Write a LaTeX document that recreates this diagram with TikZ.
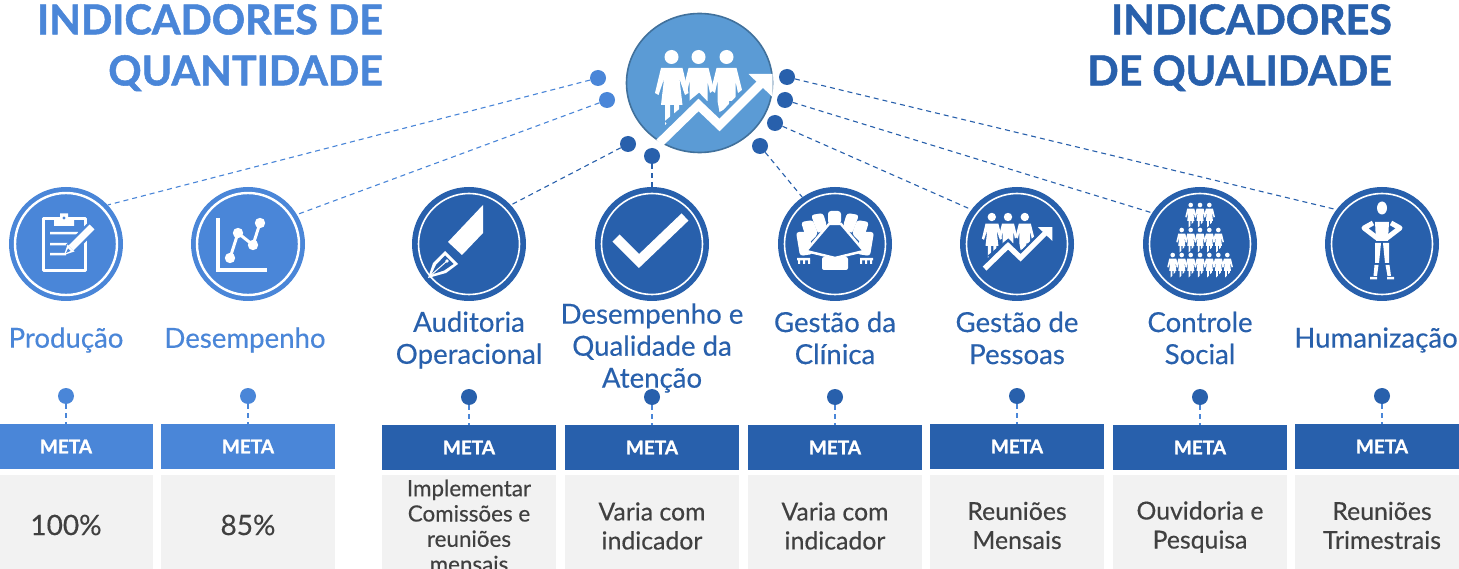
\documentclass[tikz,border=0pt]{standalone}
\usepackage{fontspec}
\usetikzlibrary{shapes.geometric}
\setmainfont{Lato}[BoldFeatures={FakeBold=1.3}]
\newfontfamily\medfont{Lato}[FakeBold=0.35]
\definecolor{lite}{HTML}{4A86D8}
\definecolor{dark}{HTML}{2860AC}
\definecolor{hub}{HTML}{5B9BD5}
\definecolor{hubline}{HTML}{41719C}
\definecolor{pale}{HTML}{F2F2F2}
\definecolor{ink}{HTML}{404040}
\tikzset{
  x=1pt,y=-1pt,
  icon/.style={circle,fill=#1,minimum size=114pt,inner sep=0pt},
  ringline/.style={draw=white,line width=#1},
  dot/.style={circle,fill=#1,minimum size=16pt,inner sep=0pt},
  link/.style={draw=#1,line width=1.1pt,dash pattern=on 5pt off 4pt},
  metabox/.style={fill=#1,minimum width=174pt,minimum height=45pt,inner sep=0pt,text=white,font=\fontsize{19}{24}\selectfont\bfseries},
  palebox/.style={fill=pale,minimum width=174pt,minimum height=110pt,inner sep=0pt},
  title/.style={text=#1,font=\fontsize{41.2}{51}\selectfont\bfseries,align=right,inner sep=0pt},
  lab/.style={text=#1,font=\medfont\fontsize{27.6}{32}\selectfont,align=center,inner sep=0pt},
  val/.style={text=ink,font=\medfont\fontsize{#1}{29}\selectfont,align=center,inner sep=0pt},
}
% woman figure, head centre at origin
\newcommand{\womanfig}{%
  \fill[white] (0,0) circle (7);
  \fill[white] (-10.5,11) -- (11,11) -- (17,36) -- (13.5,38) -- (8,22) -- (11,48) -- (7.7,48) -- (7.7,53) -- (2.7,58) -- (2.7,48) -- (-1.3,48) -- (-1.3,63) -- (-6.5,68) -- (-6.5,48) -- (-10.5,48) -- (-7.5,22) -- (-13,38) -- (-16.5,36) -- cycle;}
\newcommand{\manfig}{%
  \fill[white] (0,0) circle (7);
  \fill[white] (-10,11) -- (10,11) -- (15.5,33) -- (11.5,36) -- (9,24) -- (9,44) -- (2.5,44) -- (2.5,50) -- (-7,55) -- (-9,44) -- (-9,24) -- (-11.5,36) -- (-15.5,33) -- cycle;}
\newcommand{\peopleicon}[4]{% x y scale background
  \begin{scope}[shift={(#1,#2)},scale=#3]
    \begin{scope}[shift={(-28,-26)}]\womanfig\end{scope}
    \begin{scope}[shift={(-1,-26)}]\manfig\end{scope}
    \begin{scope}[shift={(27,-26)}]\manfig\end{scope}
    \draw[#4,line width=15pt*#3,line join=miter] (-30,44) -- (-1,20) -- (20,42) -- (58,2);
    \draw[white,line width=9pt*#3,line join=miter] (-40,60) -- (-1,22) -- (20,42) -- (63,-1);
    \fill[white] (49,-9) -- (73,-9) -- (73,14) -- cycle;
  \end{scope}}
\newcommand{\crowdfig}[2]{\begin{scope}[shift={(#1,#2)},scale=.33]\womanfig\end{scope}}
\begin{document}
\begin{tikzpicture}
\useasboundingbox (0,0) rectangle (1459,569);
\fill[white] (0,0) rectangle (1459,569);

% titles
\node[title=lite,anchor=north east] (tq) at (383,4) {INDICADORES DE\\QUANTIDADE};
\node[title=dark,anchor=north east] (tl) at (1392,4) {INDICADORES\\DE QUALIDADE};

% hub
\node[ellipse,fill=hub,draw=hubline,line width=1.6pt,minimum width=146pt,minimum height=139pt,inner sep=0pt] (hub) at (699.5,83) {};
\peopleicon{699.5}{83}{1}{hub}

% icon discs
\node[icon=lite] (ic1) at (66,244) {};
\node[icon=lite] (ic2) at (248,244) {};
\node[icon=dark] (ic3) at (469,244) {};
\node[icon=dark] (ic4) at (652,244) {};
\node[icon=dark] (ic5) at (835,244) {};
\node[icon=dark] (ic6) at (1017,244) {};
\node[icon=dark] (ic7) at (1200,244) {};
\node[icon=dark] (ic8) at (1382,244) {};
\draw[ringline=2.4pt] (ic1.center) circle (51);
\draw[ringline=2.4pt] (ic2.center) circle (51);
\foreach \n in {ic3,ic4,ic5,ic6,ic7,ic8} {\draw[ringline=1.6pt] (\n.center) circle (50.5);}

% clipboard
\draw[white,line width=3pt,line join=round] (43.5,219) rectangle (85,271);
\fill[white] (54,219) rectangle (74,226) (60,213.5) rectangle (68,220);
\fill[lite] (64,218) circle (1.6);
\fill[white] (50,232) rectangle (78,234.5) (50,243) rectangle (72,245.5) (50,253) rectangle (66,255.5);
\draw[lite,line width=12pt] (91,228) -- (70,249);
\draw[white,line width=7pt] (92,227) -- (71,248);
\fill[white] (67.5,244.5) -- (74.5,251.5) -- (64,255) -- cycle;
\fill[lite] (68,248.5) -- (70.5,251) -- (66,253) -- cycle;

% chart
\draw[white,line width=3.5pt] (218,218) -- (218,270) -- (267,270);
\draw[white,line width=3pt] (230,258) -- (238,233) -- (253,245) -- (260,223);
\foreach \p in {(230,258),(238,233),(253,245),(260,223)} {\fill[white] \p circle (5.2);}

% pen
\fill[white] (483,205) -- (483,233) -- (462,255) -- (448,242) -- cycle;
\fill[white] (428,278) -- (433,263) -- (445,251) -- (458,264) -- (446,273) -- cycle;
\fill[dark] (431.5,274.5) -- (436,265) -- (445,255.5) -- (453.5,264) -- (444,270.5) -- cycle;
\draw[white,line width=1pt] (430,276) -- (447,261);
\fill[white] (447,261) circle (1.8);

% check
\draw[white,line width=10pt,line join=miter] (616,238) -- (639,261) -- (685,217);

% meeting table
\fill[white,rounded corners=3pt] (828,211) rectangle (841,224);
\fill[white,rounded corners=3pt] (811,215) -- (823,213) -- (827,226) -- (818,234) -- cycle (859,215) -- (847,213) -- (843,226) -- (852,234) -- cycle;
\fill[white,rounded corners=3pt] (801,222) -- (813,220) -- (818,234) -- (808,244) -- cycle (869,222) -- (857,220) -- (852,234) -- (862,244) -- cycle;
\fill[white,rounded corners=3pt] (796,232) -- (809,232) -- (813,254) -- (800,256) -- cycle (874,232) -- (861,232) -- (857,254) -- (870,256) -- cycle;
\fill[white,rounded corners=2pt] (822,257) rectangle (848,270);
\fill[white] (797,258) rectangle (810,260.5) (860,258) rectangle (873,260.5);
\fill[white] (798,260) rectangle (800,264) (803,260) rectangle (805,264) (808,260) rectangle (810,264) (860,260) rectangle (862,264) (865,260) rectangle (867,264) (870,260) rectangle (872,264);
\fill[dark,draw=white,line width=2.5pt] (829,224) -- (841,224) -- (864,251) -- (835,258) -- (806,251) -- cycle;

% people with arrow
\peopleicon{1008.6}{232.6}{.6}{dark}

% crowd
\foreach \x in {1190.7,1200,1209.3} {\crowdfig{\x}{205}}
\foreach \x in {1181.7,1190.7,1200,1209.3,1218.3} {\crowdfig{\x}{230}}
\foreach \x in {1172.7,1181.7,1190.7,1200,1209.3,1218.3,1227.3} {\crowdfig{\x}{255}}

% mannequin
\fill[white] (1382,208) ellipse (5 and 6.5);
\fill[white] (1375,222) -- (1389,222) -- (1388,241) -- (1376,241) -- cycle;
\draw[white,line width=5pt,line join=round] (1373,223) -- (1364,228) -- (1377,238);
\draw[white,line width=5pt,line join=round] (1391,223) -- (1400,228) -- (1387,238);
\fill[white] (1375,243) -- (1381,243) -- (1379,263) -- (1375,263) -- cycle (1383,243) -- (1389,243) -- (1389,263) -- (1385,263) -- cycle;
\fill[white] (1374.5,265) -- (1378.5,265) -- (1377,276) -- (1373.5,276) -- cycle (1385.5,265) -- (1389.5,265) -- (1391,276) -- (1387.5,276) -- cycle;
\fill[white] (1370,277) rectangle (1377,279.5) (1387,277) rectangle (1394,279.5);

% labels
\node[lab=lite] (l1) at (66,340) {Produção};
\node[lab=lite] (l2) at (245,340) {Desempenho};
\node[lab=dark] (l3) at (469,340) {Auditoria\\Operacional};
\node[lab=dark] (l4) at (652,348) {Desempenho e\\Qualidade da\\Atenção};
\node[lab=dark] (l5) at (835,338) {Gestão da\\Clínica};
\node[lab=dark] (l6) at (1017,338) {Gestão de\\Pessoas};
\node[lab=dark] (l7) at (1200,338) {Controle\\Social};
\node[lab=dark] (l8) at (1376,340) {Humanização};

% boxes
\node[metabox=lite] (m1) at (66,446.5) {META};
\node[metabox=lite] (m2) at (248,446.5) {META};
\node[metabox=dark] (m3) at (469,447.5) {META};
\node[metabox=dark] (m4) at (652,447.5) {META};
\node[metabox=dark] (m5) at (835,447.5) {META};
\node[metabox=dark] (m6) at (1017,446.5) {META};
\node[metabox=dark] (m7) at (1200,447.5) {META};
\node[metabox=dark] (m8) at (1382,446.5) {META};
\foreach \n/\x in {g1/66,g2/248,g3/469,g4/652,g5/835,g6/1017,g7/1200,g8/1382}
  {\node[palebox] (\n) at (\x,530) {};}

% values
\node[val=28] (v1) at (66,525) {100\%};
\node[val=28] (v2) at (248,525) {85\%};
\node[val=22,font=\medfont\fontsize{22.4}{25.3}\selectfont] (v3) at (469,526) {Implementar\\Comissões e\\reuniões\\mensais};
\node[val=24.8] (v4) at (652,526) {Varia com\\indicador};
\node[val=24.8] (v5) at (835,526) {Varia com\\indicador};
\node[val=24.8] (v6) at (1017,525.5) {Reuniões\\Mensais};
\node[val=24.8] (v7) at (1200,527) {Ouvidoria e\\Pesquisa};
\node[val=24.8] (v8) at (1382,525.5) {Reuniões\\Trimestrais};

% lower dots and connectors
\node[dot=lite] (b1) at (66,396) {};
\node[dot=lite] (b2) at (248,396) {};
\node[dot=dark] (b3) at (469,397) {};
\node[dot=dark] (b4) at (652,397) {};
\node[dot=dark] (b5) at (835,397) {};
\node[dot=dark] (b6) at (1017,396) {};
\node[dot=dark] (b7) at (1200,397) {};
\node[dot=dark] (b8) at (1382,396) {};
\draw[link=lite] (b1) -- (m1.north);
\draw[link=lite] (b2) -- (m2.north);
\foreach \i in {3,...,8} {\draw[link=lite] (b\i) -- (m\i.north);}

% upper dots and connectors
\node[dot=lite] (u1) at (598,78) {};
\node[dot=lite] (u2) at (607,100) {};
\node[dot=dark] (u3) at (628,144) {};
\node[dot=dark] (u4) at (652,156) {};
\node[dot=dark] (u5) at (760,146) {};
\node[dot=dark] (u6) at (775,123) {};
\node[dot=dark] (u7) at (785,100) {};
\node[dot=dark] (u8) at (787,77) {};
\draw[link=lite] (u1) -- (ic1.43);
\draw[link=lite] (u2) -- (ic2.31.6);
\draw[link=dark] (u3) -- (ic3.43);
\draw[link=dark] (u4) -- (ic4.90);
\draw[link=dark] (u5) -- (ic5.125.8);
\draw[link=dark] (u6) -- (ic6.143);
\draw[link=dark] (u7) -- (ic7.147);
\draw[link=dark] (u8) -- (ic8.143);
\end{tikzpicture}
\end{document}
